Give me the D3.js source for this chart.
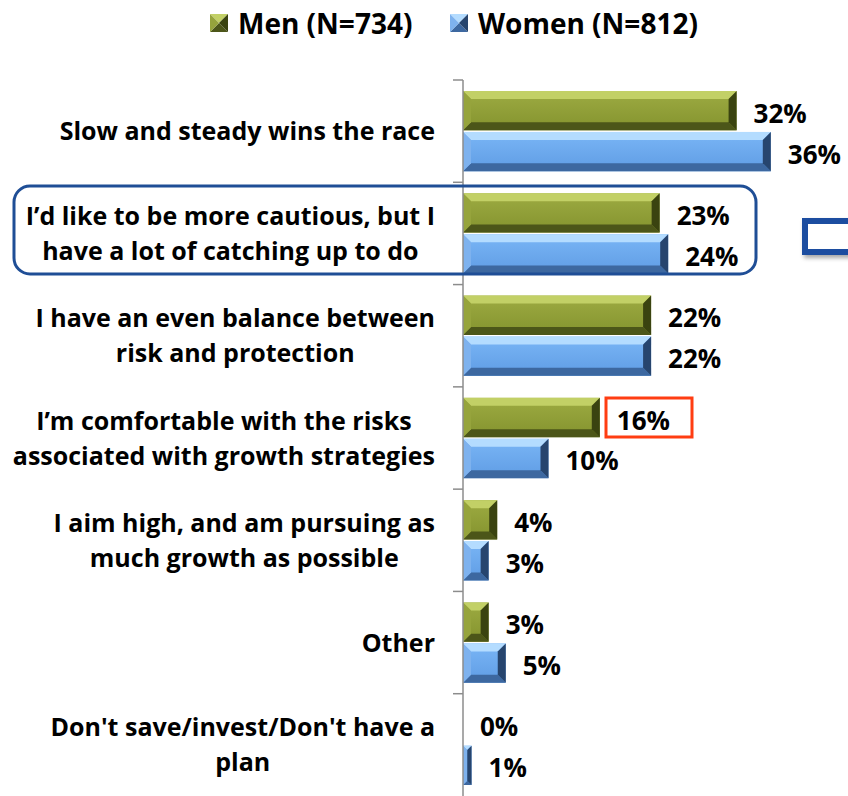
<!DOCTYPE html>
<html>
<head>
<meta charset="utf-8">
<script src="https://cdn.jsdelivr.net/npm/d3@7"></script>
<style>
  html, body { margin: 0; padding: 0; background: #fff; }
  svg { display: block; }
  text { font-family: "Open Sans", Lato, sans-serif; font-weight: bold; }
</style>
</head>
<body>
<svg id="chart" width="848" height="796"></svg>
<script>
// ---------- data ----------
const categories = [
  ["Slow and steady wins the race"],
  ["I\u2019d like to be more cautious, but I", "have a lot of catching up to do"],
  ["I have an even balance between", "risk and protection"],
  ["I\u2019m comfortable with the risks", "associated with growth strategies"],
  ["I aim high, and am pursuing as", "much growth as possible"],
  ["Other"],
  ["Don't save/invest/Don't have a", "plan"]
];
const series = ["Men (N=734)", "Women (N=812)"];
const menValues = [32, 23, 22, 16, 4, 3, 0];
const womenValues = [36, 24, 22, 10, 3, 5, 1];
const xDomain = [0, 40];

// ---------- setup ----------
const svg = d3.select("#chart");
const axisX = 463;
const x = d3.scaleLinear().domain(xDomain).range([axisX, axisX + 342]);
const catIdx = categories.map((d, i) => i);
const y = d3.scaleBand().domain(catIdx).range([80, 796]);
const yInner = d3.scaleBand().domain([0, 1]).range([11, y.bandwidth() - 11]).paddingInner(0.04);

const palettes = [
  { top: "#c2d066", face1: "#9dab42", face2: "#84932e", bottom: "#4c5619", left: "#96a43c", right: "#3a4310" },
  { top: "#b4dcff", face1: "#7ab6f6", face2: "#5f9ce4", bottom: "#3d68a0", left: "#7eb2ee", right: "#27456e" }
];

const defs = svg.append("defs");
palettes.forEach((p, i) => {
  const g = defs.append("linearGradient").attr("id", "face" + i)
    .attr("x1", 0).attr("y1", 0).attr("x2", 0).attr("y2", 1);
  g.append("stop").attr("offset", "0%").attr("stop-color", p.face1);
  g.append("stop").attr("offset", "100%").attr("stop-color", p.face2);
});
const sh = defs.append("filter").attr("id", "shadow").attr("x", "-20%").attr("y", "-40%").attr("width", "150%").attr("height", "200%");
sh.append("feDropShadow").attr("dx", 2).attr("dy", 3).attr("stdDeviation", 2).attr("flood-color", "#000").attr("flood-opacity", 0.35);

function bevelBar(g, x0, y0, w, h, p, i) {
  const b = Math.min(8, w / 2, h / 2);
  const x1 = x0 + w, y1 = y0 + h;
  g.append("rect").attr("x", x0).attr("y", y0).attr("width", w).attr("height", h).attr("fill", `url(#face${i})`);
  const poly = (pts, fill) => g.append("polygon").attr("points", pts.map(q => q.join(",")).join(" ")).attr("fill", fill);
  poly([[x0, y0], [x1, y0], [x1 - b, y0 + b], [x0 + b, y0 + b]], p.top);
  poly([[x0, y1], [x1, y1], [x1 - b, y1 - b], [x0 + b, y1 - b]], p.bottom);
  poly([[x0, y0], [x0 + b, y0 + b], [x0 + b, y1 - b], [x0, y1]], p.left);
  poly([[x1, y0], [x1 - b, y0 + b], [x1 - b, y1 - b], [x1, y1]], p.right);
}

// ---------- bars ----------
const valuesBySeries = [menValues, womenValues];
const barsG = svg.append("g");
valuesBySeries.forEach((vals, si) => {
  vals.forEach((v, ci) => {
    const y0 = y(ci) + yInner(si);
    const h = yInner.bandwidth();
    const w = x(v) - x(0);
    if (w > 0) bevelBar(barsG, x(0), y0, w, h, palettes[si], si);
    barsG.append("text")
      .attr("x", x(v) + 17)
      .attr("y", y0 + h / 2 + 12)
      .attr("font-size", 26)
      .attr("fill", "#000")
      .text(v + "%");
  });
});

// ---------- axis ----------
const axisG = svg.append("g");
axisG.append("line").attr("x1", axisX).attr("x2", axisX).attr("y1", 80).attr("y2", 796)
  .attr("stroke", "#8c8c8c").attr("stroke-width", 1.5);
catIdx.forEach(i => {
  axisG.append("line").attr("x1", axisX - 10).attr("x2", axisX).attr("y1", y(i)).attr("y2", y(i))
    .attr("stroke", "#8c8c8c").attr("stroke-width", 1.5);
});

// ---------- category labels ----------
const labelRight = 435;
const lineH = 35;
categories.forEach((lines, ci) => {
  const g = svg.append("g");
  const texts = lines.map(ln => g.append("text")
    .attr("font-size", 25).attr("fill", "#000").attr("text-anchor", "middle").text(ln));
  const maxW = d3.max(texts, t => t.node().getComputedTextLength());
  const cx = labelRight - maxW / 2;
  const cy = y(ci) + y.bandwidth() / 2;
  const n = lines.length;
  texts.forEach((t, li) => {
    t.attr("x", cx).attr("y", cy + (li - (n - 1) / 2) * lineH + 9);
  });
});

// ---------- legend ----------
const legend = svg.append("g");
const legendX = [210, 450];
series.forEach((s, si) => {
  const lx = legendX[si], ly = 14;
  const p = palettes[si];
  const sz = 18, c = sz / 2;
  const poly = (pts, fill) => legend.append("polygon").attr("points", pts.map(q => q.join(",")).join(" ")).attr("fill", fill);
  poly([[lx, ly], [lx + sz, ly], [lx + c, ly + c]], p.top);
  poly([[lx, ly + sz], [lx + sz, ly + sz], [lx + c, ly + c]], p.bottom);
  poly([[lx, ly], [lx, ly + sz], [lx + c, ly + c]], p.left);
  poly([[lx + sz, ly], [lx + sz, ly + sz], [lx + c, ly + c]], p.right);
  legend.append("text").attr("x", lx + 28).attr("y", 34).attr("font-size", 28).attr("fill", "#000").text(s);
});

// ---------- annotations ----------
svg.append("rect").attr("x", 14).attr("y", 186).attr("width", 742).attr("height", 88)
  .attr("rx", 16).attr("ry", 16).attr("fill", "none").attr("stroke", "#1f4e96").attr("stroke-width", 3);
svg.append("rect").attr("x", 606).attr("y", 398).attr("width", 86).attr("height", 39)
  .attr("fill", "none").attr("stroke", "#ff3d12").attr("stroke-width", 3);
svg.append("rect").attr("x", 805).attr("y", 221).attr("width", 100).attr("height", 31)
  .attr("fill", "#fff").attr("stroke", "#1a4ea0").attr("stroke-width", 6).attr("filter", "url(#shadow)");
</script>
</body>
</html>
